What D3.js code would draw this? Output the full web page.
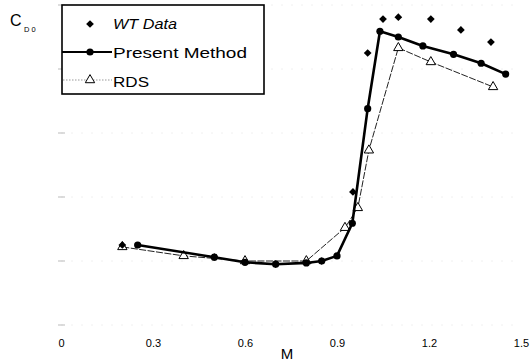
<!DOCTYPE html>
<html><head><meta charset="utf-8">
<script src="https://cdn.jsdelivr.net/npm/d3@7"></script>
<style>body{margin:0;background:#fff}svg{display:block}text{font-family:"Liberation Sans",Arial,sans-serif}</style>
</head><body>
<script>
// Data
const presentM  = [0.25,0.50,0.60,0.70,0.80,0.85,0.90,0.95,1.00,1.04,1.10,1.18,1.28,1.37,1.45];
const presentCD = [0.0125,0.0106,0.0098,0.0095,0.0097,0.0100,0.0108,0.0159,0.0338,0.0459,0.0450,0.0436,0.0423,0.0409,0.0392];
const wtM  = [0.20,0.50,0.70,0.85,0.952,1.00,1.05,1.10,1.206,1.304,1.402];
const wtCD = [0.0125,0.0106,0.0095,0.0100,0.0208,0.0425,0.0478,0.0481,0.0478,0.0461,0.0442];
const rdsM  = [0.20,0.40,0.60,0.80,0.926,0.968,1.004,1.10,1.206,1.409];
const rdsCD = [0.0122,0.0108,0.0100,0.0100,0.0152,0.0183,0.0273,0.0433,0.0411,0.0372];
const xTicks = [0,0.3,0.6,0.9,1.2,1.5];
const xTickLabels = ["0","0.3","0.6","0.9","1.2","1.5"];
const yTicks = [0,0.01,0.02,0.03,0.04,0.05];
const legendLabels = ["WT Data","Present Method","RDS"];

const W=532,H=363;
const svg=d3.select("body").append("svg").attr("width",W).attr("height",H);
const x=d3.scaleLinear().domain([0,1.5]).range([61,521]);
const y=d3.scaleLinear().domain([0,0.05]).range([325,5]);

// faint grid
svg.append("g").selectAll("line").data(yTicks).join("line")
  .attr("x1",x(0)).attr("x2",x(1.5)).attr("y1",d=>y(d)).attr("y2",d=>y(d))
  .attr("stroke","#f0f0f0").attr("stroke-width",1).attr("stroke-dasharray","2,8");
svg.append("g").selectAll("line").data(yTicks).join("line")
  .attr("x1",x(0)-3).attr("x2",x(0)+4).attr("y1",d=>y(d)).attr("y2",d=>y(d))
  .attr("stroke","#bbb").attr("stroke-width",1);

// x axis labels
const xa=d3.axisBottom(x).tickValues(xTicks).tickFormat((d,i)=>xTickLabels[i]).tickSize(0).tickPadding(14);
const gx=svg.append("g").attr("transform",`translate(0,${y(0)})`).call(xa);
gx.select(".domain").remove();
gx.selectAll("text").attr("font-size",11).attr("fill","#000").attr("font-family","Liberation Sans, Arial");
svg.append("text").attr("x",287).attr("y",359).attr("text-anchor","middle").attr("font-size",15).text("M");

// Y label
svg.append("text").attr("x",10).attr("y",26).attr("font-size",16).text("C");
svg.append("text").attr("x",24).attr("y",32).attr("font-size",7.5).attr("letter-spacing",2).text("D0");

const line=d3.line().x(d=>x(d[0])).y(d=>y(d[1]));
const rds=rdsM.map((m,i)=>[m,rdsCD[i]]);
const pm=presentM.map((m,i)=>[m,presentCD[i]]);
const wt=wtM.map((m,i)=>[m,wtCD[i]]);

// RDS
svg.append("path").attr("d",line(rds)).attr("fill","none").attr("stroke","#222").attr("stroke-width",1).attr("stroke-dasharray","7,1.5");
const tri=d3.symbol().type(d3.symbolTriangle).size(38);
svg.append("g").selectAll("path").data(rds).join("path").attr("d",tri)
  .attr("transform",d=>`translate(${x(d[0])},${y(d[1])})`).attr("fill","#fff").attr("stroke","#000").attr("stroke-width",1);

// Present method
svg.append("path").attr("d",line(pm)).attr("fill","none").attr("stroke","#000").attr("stroke-width",2.6).attr("stroke-linejoin","round");
svg.append("g").selectAll("circle").data(pm).join("circle")
  .attr("cx",d=>x(d[0])).attr("cy",d=>y(d[1])).attr("r",3.6).attr("fill","#000");

// WT (square rotated 45 degrees)
const dia=d3.symbol().type(d3.symbolSquare).size(30);
svg.append("g").selectAll("path").data(wt).join("path").attr("d",dia)
  .attr("transform",d=>`translate(${x(d[0])},${y(d[1])}) rotate(45)`).attr("fill","#000");

// Legend
const lg=svg.append("g");
lg.append("rect").attr("x",62).attr("y",5).attr("width",202).attr("height",89).attr("fill","#fff").attr("stroke","#000").attr("stroke-width",1.6);
lg.append("path").attr("d",dia).attr("transform","translate(90,24) rotate(45)").attr("fill","#000");
lg.append("text").attr("x",113).attr("y",29).attr("font-size",15).attr("font-style","italic").attr("textLength",64).attr("lengthAdjust","spacingAndGlyphs").text(legendLabels[0]);
lg.append("line").attr("x1",62).attr("x2",112).attr("y1",52).attr("y2",52).attr("stroke","#000").attr("stroke-width",2.2);
lg.append("circle").attr("cx",90).attr("cy",52).attr("r",3.6).attr("fill","#000");
lg.append("text").attr("x",113).attr("y",58).attr("font-size",15).attr("textLength",134).attr("lengthAdjust","spacingAndGlyphs").text(legendLabels[1]);
lg.append("line").attr("x1",63).attr("x2",112).attr("y1",80).attr("y2",80).attr("stroke","#999").attr("stroke-width",1).attr("stroke-dasharray","1.5,1.5");
lg.append("path").attr("d",tri).attr("transform","translate(90,80)").attr("fill","#fff").attr("stroke","#000");
lg.append("text").attr("x",113).attr("y",87).attr("font-size",15).attr("textLength",36).attr("lengthAdjust","spacingAndGlyphs").text(legendLabels[2]);
</script>
</body></html>
